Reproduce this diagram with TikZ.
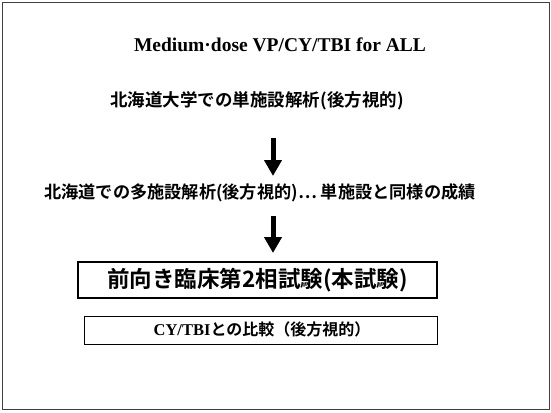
\documentclass[tikz,border=0pt]{standalone}
\usepackage{fontspec}
\setmainfont{Liberation Serif}
\newfontfamily\jp{Noto Sans CJK JP}[BoldFont={* Bold}]
\usetikzlibrary{arrows.meta}
\tikzset{
  jtext/.style={font=\jp\bfseries, inner sep=0pt, anchor=center},
  bigarrow/.style={line width=5pt, -{Triangle[width=17pt,length=16pt]}},
  boxA/.style={draw, line width=1.4pt, minimum width=359pt, minimum height=36pt, inner sep=0pt},
  boxB/.style={draw, line width=1pt, minimum width=353pt, minimum height=28pt, inner sep=0pt},
}
\begin{document}
\begin{tikzpicture}[x=1pt,y=-1pt]
\useasboundingbox (0,0) rectangle (551,412);
\draw[line width=0.8pt, black!75] (2,2) rectangle (549,409);
\node[font=\bfseries\fontsize{19.5}{22}\selectfont, inner sep=0pt] (title) at (280,45) {Medium·dose VP/CY/TBI for ALL};
\node[jtext, font=\jp\bfseries\fontsize{17.5}{20}\selectfont] (l1) at (257,101) {北海道大学での単施設解析(後方視的)};
\coordinate (a1s) at (273,138);
\coordinate (a1e) at (273,176);
\draw[bigarrow] (a1s) -- (a1e);
\node[jtext, font=\jp\bfseries\fontsize{17.2}{20}\selectfont] (l2) at (260,193) {北海道での多施設解析(後方視的)… 単施設と同様の成績};
\coordinate (a2s) at (273,216);
\coordinate (a2e) at (273,253);
\draw[bigarrow] (a2s) -- (a2e);
\node[boxA] (b1) at (257.5,280) {};
\node[jtext, font=\jp\bfseries\fontsize{22.5}{26}\selectfont] (t1) at (257.5,280) {前向き臨床第2相試験(本試験)};
\node[boxB] (b2) at (260.5,330) {};
\node[jtext, font=\bfseries\fontsize{16.5}{19}\selectfont] (t2) at (262,329) {CY/TBI{\jp\fontsize{16}{19}\selectfont との比較（後方視的）}};
\end{tikzpicture}
\end{document}
